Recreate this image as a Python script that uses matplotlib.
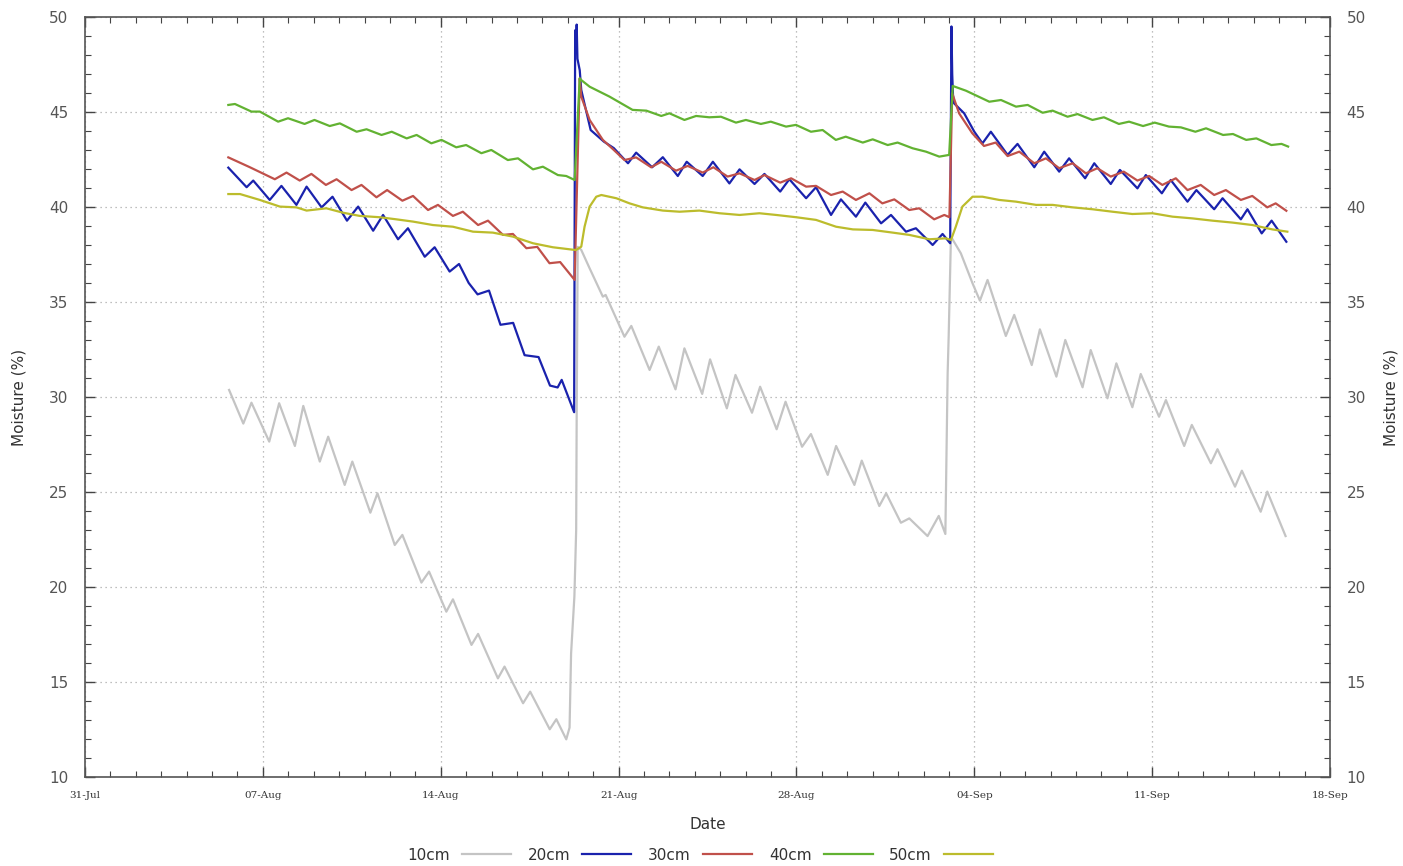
import datetime as dt
import matplotlib
matplotlib.use("Agg")
from matplotlib import pyplot as plt
import matplotlib.dates as mdates
from matplotlib.ticker import MultipleLocator

# days counted from 31-Jul 00:00
base = dt.datetime(2015, 7, 31)

# 10cm
d10 = [5.67, 6.23, 6.55, 7.25, 7.64, 8.26, 8.59, 9.24, 9.57, 10.22, 10.52, 11.23, 11.51,
       12.19, 12.49, 13.24, 13.54, 14.22, 14.48, 15.21, 15.47, 16.25, 16.51, 17.24, 17.52,
       18.29, 18.55, 18.94, 19.07, 19.13, 19.26, 19.33, 19.35, 19.39, 19.53, 19.86, 20.38,
       20.49, 21.23, 21.5, 22.22, 22.58, 23.24, 23.59, 24.29, 24.6, 25.26, 25.6, 26.25,
       26.57, 27.22, 27.57, 28.22, 28.57, 29.23, 29.56, 30.28, 30.57, 31.26, 31.53, 32.11,
       32.44, 33.16, 33.6, 33.86, 33.95, 33.99, 34.08, 34.47, 34.93, 35.22, 35.52, 36.24,
       36.57, 37.26, 37.58, 38.23, 38.58, 39.26, 39.58, 40.24, 40.59, 41.22, 41.55, 42.27,
       42.54, 43.26, 43.56, 44.31, 44.57, 45.26, 45.53, 46.27, 46.53, 47.25]
m10 = [30.37, 28.6, 29.7, 27.65, 29.67, 27.42, 29.53, 26.6, 27.91, 25.37, 26.6, 23.91, 24.93,
       22.21, 22.74, 20.23, 20.81, 18.7, 19.35, 16.95, 17.53, 15.19, 15.81, 13.88, 14.49,
       12.51, 13.04, 11.98, 12.6, 16.5, 19.5, 23.0, 29.0, 37.9, 37.74, 36.77, 35.28,
       35.37, 33.17, 33.74, 31.42, 32.65, 30.4, 32.56, 30.16, 31.98, 29.4, 31.16, 29.17,
       30.54, 28.3, 29.75, 27.38, 28.05, 25.9, 27.42, 25.37, 26.65, 24.26, 24.93, 23.38,
       23.61, 22.68, 23.74, 22.79, 31.25, 33.17, 38.44, 37.56, 35.98, 35.07, 36.16, 33.21,
       34.32, 31.68, 33.56, 31.07, 33.0, 30.51, 32.47, 29.93, 31.77, 29.46, 31.21, 28.96,
       29.84, 27.42, 28.53, 26.51, 27.25, 25.28, 26.12, 23.96, 25.02, 22.68]

# 20cm
d20 = [5.64, 6.36, 6.62, 7.27, 7.73, 8.32, 8.72, 9.31, 9.74, 10.31, 10.75, 11.34, 11.73,
       12.32, 12.71, 13.37, 13.76, 14.35, 14.72, 15.1, 15.45, 15.9, 16.35, 16.85, 17.3,
       17.85, 18.3, 18.6, 18.76, 19.25, 19.29, 19.32, 19.35, 19.38, 19.47, 19.53, 19.9,
       20.42, 20.81, 21.37, 21.69, 22.32, 22.74, 23.33, 23.68, 24.31, 24.71, 25.36, 25.76,
       26.35, 26.74, 27.36, 27.72, 28.38, 28.77, 29.36, 29.75, 30.34, 30.71, 31.33, 31.72,
       32.31, 32.7, 33.36, 33.75, 34.05, 34.1, 34.13, 34.16, 34.2, 34.6, 35.0, 35.32, 35.65,
       36.31, 36.7, 37.36, 37.75, 38.34, 38.73, 39.36, 39.72, 40.37, 40.73, 41.42, 41.75,
       42.38, 42.73, 43.39, 43.74, 44.44, 44.77, 45.49, 45.75, 46.31, 46.7, 47.28]
m20 = [42.07, 41.04, 41.39, 40.37, 41.11, 40.11, 41.07, 39.98, 40.54, 39.28, 40.02, 38.75, 39.58,
       38.3, 38.88, 37.38, 37.88, 36.6, 37.0, 36.0, 35.4, 35.6, 33.8, 33.9, 32.2,
       32.1, 30.6, 30.5, 30.9, 29.2, 49.3, 48.2, 49.6, 47.8, 47.2, 46.16, 44.05,
       43.44, 43.1, 42.3, 42.86, 42.09, 42.62, 41.63, 42.38, 41.63, 42.38, 41.24, 41.98,
       41.21, 41.74, 40.81, 41.46, 40.46, 41.04, 39.58, 40.4, 39.49, 40.23, 39.14, 39.58,
       38.7, 38.88, 38.0, 38.58, 38.09, 49.5, 47.0, 45.9, 45.46, 44.93, 43.96, 43.35, 43.96,
       42.74, 43.32, 42.09, 42.91, 41.86, 42.56, 41.51, 42.3, 41.21, 41.95, 40.98, 41.68,
       40.72, 41.42, 40.28, 40.89, 39.88, 40.46, 39.35, 39.88, 38.61, 39.28, 38.17]

# 30cm
d30 = [5.64, 6.49, 7.47, 7.93, 8.45, 8.91, 9.48, 9.9, 10.49, 10.88, 11.47, 11.89, 12.49,
       12.91, 13.5, 13.89, 14.48, 14.87, 15.47, 15.86, 16.45, 16.84, 17.37, 17.8, 18.28,
       18.7, 19.27, 19.47, 19.53, 19.86, 20.38, 20.78, 21.23, 21.69, 22.28, 22.68, 23.26,
       23.72, 24.31, 24.73, 25.29, 25.76, 26.35, 26.74, 27.36, 27.79, 28.38, 28.77, 29.36,
       29.82, 30.34, 30.87, 31.38, 31.85, 32.44, 32.83, 33.42, 33.82, 34.02, 34.13, 34.4,
       34.92, 35.38, 35.84, 36.31, 36.77, 37.36, 37.82, 38.34, 38.87, 39.39, 39.84, 40.37,
       40.88, 41.42, 41.88, 42.4, 42.93, 43.39, 43.91, 44.44, 44.9, 45.49, 45.94, 46.53,
       46.86, 47.28]
m30 = [42.61, 42.09, 41.46, 41.81, 41.39, 41.74, 41.16, 41.46, 40.89, 41.16, 40.51, 40.89, 40.33,
       40.58, 39.84, 40.11, 39.53, 39.75, 39.05, 39.28, 38.53, 38.58, 37.83, 37.9, 37.04,
       37.1, 36.16, 46.77, 45.81, 44.58, 43.53, 43.04, 42.47, 42.61, 42.09, 42.38, 41.91,
       42.16, 41.81, 42.09, 41.6, 41.77, 41.42, 41.68, 41.28, 41.51, 41.07, 41.11, 40.63,
       40.81, 40.37, 40.72, 40.19, 40.4, 39.84, 39.93, 39.35, 39.58, 39.46, 45.98, 44.93,
       43.88, 43.21, 43.39, 42.68, 42.91, 42.3, 42.56, 42.04, 42.3, 41.77, 42.04, 41.6,
       41.86, 41.39, 41.63, 41.16, 41.51, 40.89, 41.16, 40.63, 40.89, 40.37, 40.58, 39.98,
       40.19, 39.8]

# 40cm
d40 = [5.64, 5.9, 6.55, 6.88, 7.6, 7.99, 8.64, 9.03, 9.63, 10.03, 10.69, 11.08, 11.67,
       12.07, 12.66, 13.05, 13.63, 14.03, 14.61, 15.0, 15.6, 15.99, 16.64, 17.04, 17.63,
       18.02, 18.61, 18.94, 19.27, 19.47, 19.53, 19.86, 20.64, 21.55, 22.09, 22.68, 23.0,
       23.59, 24.05, 24.57, 25.03, 25.62, 26.01, 26.6, 26.99, 27.59, 27.98, 28.57, 29.03,
       29.55, 29.94, 30.61, 31.0, 31.59, 31.98, 32.57, 33.1, 33.62, 34.01, 34.15, 34.67,
       35.59, 36.05, 36.64, 37.1, 37.69, 38.08, 38.67, 39.06, 39.65, 40.1, 40.69, 41.09,
       41.64, 42.1, 42.66, 43.13, 43.7, 44.12, 44.79, 45.18, 45.7, 46.1, 46.69, 47.09, 47.35]
m40 = [45.37, 45.42, 45.02, 45.02, 44.49, 44.67, 44.37, 44.58, 44.26, 44.4, 43.96, 44.09, 43.79,
       43.96, 43.61, 43.79, 43.35, 43.53, 43.14, 43.26, 42.83, 43.0, 42.47, 42.56, 41.98,
       42.12, 41.68, 41.63, 41.42, 46.77, 46.68, 46.33, 45.81, 45.11, 45.07, 44.79, 44.93,
       44.58, 44.79, 44.72, 44.75, 44.44, 44.58, 44.37, 44.49, 44.23, 44.32, 43.96, 44.05,
       43.53, 43.7, 43.39, 43.56, 43.26, 43.39, 43.09, 42.91, 42.65, 42.74, 46.37, 46.12,
       45.54, 45.63, 45.28, 45.37, 44.96, 45.07, 44.75, 44.89, 44.58, 44.72, 44.37, 44.49,
       44.26, 44.44, 44.23, 44.19, 43.96, 44.14, 43.79, 43.84, 43.53, 43.61, 43.26, 43.32, 43.18]

# 50cm
d50 = [5.64, 6.1, 6.88, 7.67, 8.32, 8.72, 9.5, 10.15, 10.81, 11.6, 12.25, 12.91, 13.69,
       14.48, 15.27, 16.05, 16.84, 17.63, 18.41, 19.27, 19.33, 19.53, 19.66, 19.86, 20.12,
       20.32, 20.91, 21.43, 21.95, 22.74, 23.4, 24.18, 24.97, 25.76, 26.54, 27.2, 27.99,
       28.77, 29.56, 30.22, 31.0, 31.79, 32.44, 33.23, 33.88, 34.08, 34.27, 34.53, 34.93,
       35.32, 35.98, 36.64, 37.43, 38.08, 38.87, 39.65, 40.44, 41.22, 42.01, 42.8, 43.58,
       44.37, 45.15, 45.94, 46.73, 47.32]
m50 = [40.68, 40.68, 40.37, 40.02, 39.98, 39.81, 39.93, 39.7, 39.53, 39.46, 39.35, 39.23, 39.05,
       38.96, 38.7, 38.65, 38.44, 38.09, 37.88, 37.74, 37.74, 37.91, 38.96, 40.02, 40.54,
       40.63, 40.46, 40.19, 39.98, 39.81, 39.75, 39.81, 39.67, 39.58, 39.67, 39.58, 39.46,
       39.32, 38.96, 38.82, 38.79, 38.65, 38.53, 38.3, 38.35, 38.26, 38.96, 40.02, 40.54,
       40.54, 40.37, 40.28, 40.11, 40.11, 39.98, 39.88, 39.75, 39.63, 39.67, 39.49, 39.4,
       39.28, 39.18, 39.05, 38.82, 38.7]

labels = ['10cm', '20cm', '30cm', '40cm', '50cm']
colors = ['#c4c4c4', '#1a22ad', '#c0504a', '#62b232', '#bcbc2c']
days = [d10, d20, d30, d40, d50]
vals = [m10, m20, m30, m40, m50]


def to_dates(dlist):
    return [base + dt.timedelta(days=d) for d in dlist]


fig = plt.figure(figsize=(14.03, 8.66), dpi=100)
ax = fig.add_axes([0.0606, 0.1028, 0.8874, 0.8776])

handles = []
for i in range(len(labels)):
    ln, = ax.plot(to_dates(days[i]), vals[i], color=colors[i], lw=1.6, label=labels[i])
    handles.append(ln)

ax.set_xlim(base, base + dt.timedelta(days=49))
ax.set_ylim(10, 50)

ax.xaxis.set_major_locator(mdates.WeekdayLocator(byweekday=base.weekday()))
ax.xaxis.set_minor_locator(mdates.DayLocator())
ax.xaxis.set_major_formatter(mdates.DateFormatter('%d-%b'))
ax.yaxis.set_major_locator(MultipleLocator(5))
ax.yaxis.set_minor_locator(MultipleLocator(1))

ax.grid(True, which='major', linestyle=(0, (1, 3)), color='#aaaaaa', lw=0.9)

ax.tick_params(which='both', direction='in', top=True, right=True,
               labelleft=True, labelright=True, color='#444444')
ax.tick_params(which='major', length=7, width=1)
ax.tick_params(which='minor', length=4, width=0.8)
ax.tick_params(axis='y', labelsize=11, labelcolor='#555555', pad=12)
ax.tick_params(axis='x', pad=10)
for lbl in ax.get_xticklabels():
    lbl.set_family('DejaVu Serif')
    lbl.set_fontsize(7.5)
    lbl.set_color('#333333')

for sp in ax.spines.values():
    sp.set_color('#555555')
    sp.set_linewidth(1.2)

ax.set_xlabel('Date', fontsize=11, color='#333333', labelpad=12)
ax.set_ylabel('Moisture (%)', fontsize=11, color='#333333', labelpad=16)
fig.text(0.9915, 0.5416, 'Moisture (%)', rotation=90, fontsize=11, color='#333333',
         ha='center', va='center')

fig.legend(handles=handles, labels=labels, loc='center', bbox_to_anchor=(0.499, 0.0127),
           ncol=5, frameon=False, markerfirst=False, handlelength=3.2,
           columnspacing=1.1, handletextpad=0.8, fontsize=11, labelcolor='#333333')

fig.savefig('out.png', dpi=100)
